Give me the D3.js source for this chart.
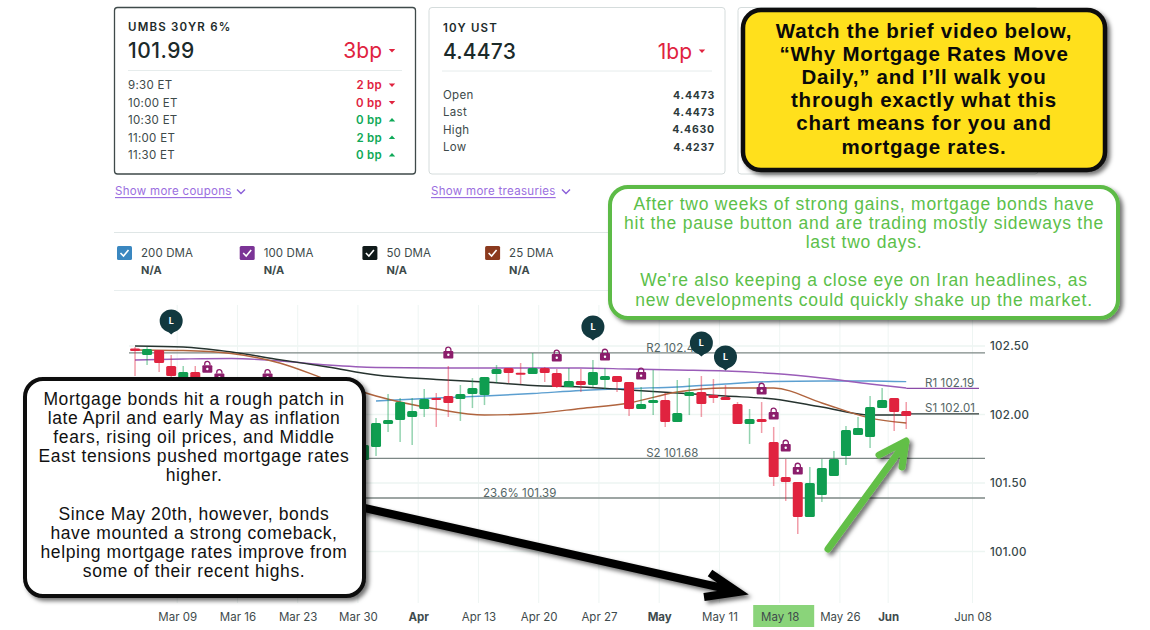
<!DOCTYPE html>
<html><head><meta charset="utf-8">
<script src="https://cdn.jsdelivr.net/npm/d3@7/dist/d3.min.js"></script>
<style>
html,body{margin:0;padding:0;background:#fff;overflow:hidden}
svg{display:block}
text{font-family:Inter,"Liberation Sans",sans-serif}
</style></head><body><svg id="c" width="1150" height="630"></svg>
<script>
// ---------- DATA ----------
const days=["2026-03-03","2026-03-04","2026-03-05","2026-03-06",
"2026-03-09","2026-03-10","2026-03-11","2026-03-12","2026-03-13",
"2026-03-16","2026-03-17","2026-03-18","2026-03-19","2026-03-20",
"2026-03-23","2026-03-24","2026-03-25","2026-03-26","2026-03-27",
"2026-03-30","2026-03-31","2026-04-01","2026-04-02","2026-04-03",
"2026-04-06","2026-04-07","2026-04-08","2026-04-09","2026-04-10",
"2026-04-13","2026-04-14","2026-04-15","2026-04-16","2026-04-17",
"2026-04-20","2026-04-21","2026-04-22","2026-04-23","2026-04-24",
"2026-04-27","2026-04-28","2026-04-29","2026-04-30","2026-05-01",
"2026-05-04","2026-05-05","2026-05-06","2026-05-07","2026-05-08",
"2026-05-11","2026-05-12","2026-05-13","2026-05-14","2026-05-15",
"2026-05-18","2026-05-19","2026-05-20","2026-05-21","2026-05-22",
"2026-05-26","2026-05-27","2026-05-28","2026-05-29",
"2026-06-01","2026-06-02","2026-06-03","2026-06-04","2026-06-05","2026-06-06","2026-06-07","2026-06-08"];
const opens=[102.482,102.434,102.471,102.354,102.266,102.310,102.252,102.142,102.164,102.030,101.930,102.020,101.870,101.755,101.843,101.740,101.595,101.683,101.770,101.668,101.763,101.930,101.960,101.982,102.040,102.120,102.135,102.113,102.150,102.142,102.296,102.339,102.305,102.296,102.339,102.303,102.201,102.245,102.215,102.252,102.281,102.237,102.040,102.084,102.106,101.945,102.135,102.164,102.142,102.128,102.077,101.931,101.967,101.799,101.544,101.507,101.252,101.412,101.551,101.697,101.850,101.836,102.047,102.120,102.026];
const highs=[102.493,102.495,102.471,102.434,102.354,102.354,102.250,102.190,102.220,102.070,102.050,102.190,101.945,101.900,101.887,101.814,101.755,101.814,101.830,101.828,101.974,102.150,102.120,102.120,102.186,102.157,102.354,102.215,102.266,102.274,102.361,102.339,102.376,102.449,102.347,102.332,102.339,102.332,102.398,102.339,102.281,102.237,102.201,102.325,102.157,102.252,102.266,102.281,102.259,102.215,102.091,102.040,102.091,101.909,101.675,101.507,101.617,101.675,101.734,101.916,101.982,102.135,102.193,102.120,102.091];
const lows=[102.281,102.361,102.310,102.245,102.215,102.164,102.120,102.070,101.975,101.870,101.860,101.810,101.705,101.680,101.653,101.536,101.520,101.595,101.580,101.595,101.697,101.872,101.800,101.777,101.982,101.909,101.982,101.953,102.047,102.069,102.230,102.230,102.223,102.296,102.237,102.193,102.201,102.164,102.201,102.186,102.164,101.989,102.040,101.996,101.909,101.945,101.996,101.982,102.084,102.106,101.931,101.785,101.865,101.478,101.369,101.128,101.252,101.361,101.551,101.631,101.850,101.755,102.047,101.880,101.894];
const closes=[102.464,102.478,102.376,102.281,102.310,102.237,102.164,102.190,102.030,101.960,102.020,101.870,101.770,101.850,101.726,101.624,101.710,101.755,101.653,101.777,101.938,101.960,102.091,102.026,102.113,102.106,102.084,102.150,102.193,102.274,102.332,102.303,102.296,102.339,102.303,102.201,102.245,102.215,102.310,102.281,102.237,102.040,102.077,102.106,101.945,102.011,102.164,102.077,102.120,102.106,101.931,101.967,101.945,101.544,101.507,101.252,101.500,101.609,101.675,101.887,101.901,102.055,102.106,102.018,101.989];

const maDays=["2026-03-03","2026-03-09","2026-03-13","2026-03-19","2026-03-25","2026-03-31","2026-04-07","2026-04-13","2026-04-17","2026-04-23","2026-04-29","2026-05-05","2026-05-11","2026-05-15","2026-05-21","2026-05-28","2026-06-02"];
const ma50=[102.50,102.493,102.456,102.40,102.347,102.288,102.256,102.237,102.212,102.201,102.179,102.157,102.135,102.113,102.055,101.996,101.996];
const ma25=[102.471,102.467,102.445,102.376,102.252,102.135,102.04,101.996,102.007,102.044,102.084,102.164,102.193,102.193,102.084,101.974,101.938];
const ma100=[102.398,102.405,102.409,102.391,102.361,102.343,102.339,102.339,102.339,102.339,102.332,102.325,102.318,102.299,102.266,102.223,102.193];
const ma200=[null,null,null,null,null,102.099,102.12,102.135,102.153,102.175,102.19,102.201,102.223,102.241,102.245,102.245,102.24];

const yTicks=[102.5,102,101.5,101];
const tickDays=["2026-03-09","2026-03-16","2026-03-23","2026-03-30","2026-04-06","2026-04-13","2026-04-20","2026-04-27","2026-05-04","2026-05-11","2026-05-18","2026-05-26","2026-06-01","2026-06-08"];
const tickLabels=["Mar 09","Mar 16","Mar 23","Mar 30","Apr","Apr 13","Apr 20","Apr 27","May","May 11","May 18","May 26","Jun","Jun 08"];
const boldTicks=["Apr","May","Jun"];

const levelNames=["R2 102.45","S2 101.68","23.6% 101.39"];
const levelValues=[102.45,101.68,101.39];
const levelLabelDays=["2026-04-30","2026-04-30","2026-04-13"];
const levelLabelDx=[5,5,-1.5];

const lockDays=["2026-03-11","2026-03-12","2026-03-18","2026-04-08","2026-04-21","2026-04-27","2026-04-30","2026-05-14","2026-05-15","2026-05-18","2026-05-19"];
const pinDays=["2026-03-06","2026-04-24","2026-05-07","2026-05-11"];
const pinValues=[102.683,102.639,102.522,102.42];

const couponRows=["9:30 ET","10:00 ET","10:30 ET","11:00 ET","11:30 ET"];
const couponVals=["2 bp","0 bp","0 bp","2 bp","0 bp"];
const couponDown=[true,true,false,false,false];
const ustRows=["Open","Last","High","Low"];
const ustVals=["4.4473","4.4473","4.4630","4.4237"];
const dmaNames=["200 DMA","100 DMA","50 DMA","25 DMA"];
const dmaColors=["#3a87c0","#7b3496","#101a1a","#8b3a1e"];
const yellowLines=["Watch the brief video below,","“Why Mortgage Rates Move","Daily,” and I’ll walk you","through exactly what this","chart means for you and","mortgage rates."];
const greenLines=["After two weeks of strong gains, mortgage bonds have","hit the pause button and are trading mostly sideways the","last two days.","","We're also keeping a close eye on Iran headlines, as","new developments could quickly shake up the market."];
const blackLines=["Mortgage bonds hit a rough patch in","late April and early May as inflation","fears, rising oil prices, and Middle","East tensions pushed mortgage rates","higher.","","Since May 20th, however, bonds","have mounted a strong comeback,","helping mortgage rates improve from","some of their recent highs."];

// ---------- SCALES ----------
const svg=d3.select("#c");
const x=d3.scalePoint().domain(days).range([129,972.5]);
const step=x.step();
const xc=d=>x(d)+step/2;
const y=d3.scaleLinear().domain([101,102.5]).range([551.5,346]);
const RED="#e0233f",GRN="#0f9d50",right=985;

const defs=svg.append("defs");
const f=defs.append("filter").attr("id","sh").attr("x","-10%").attr("y","-10%").attr("width","125%").attr("height","125%");
f.append("feDropShadow").attr("dx",3).attr("dy",3).attr("stdDeviation",2).attr("flood-color","#000").attr("flood-opacity",.55);

// ---------- CARDS ----------
function txt(g,s,px,py,o={}){
  const t=g.append("text").attr("x",px).attr("y",py).text(s).attr("dominant-baseline","central")
   .attr("font-size",o.size||11.5).attr("font-weight",o.w||400).attr("fill",o.c||"#3d4a4a")
   .attr("text-anchor",o.a||"start");
  if(o.ls)t.style("letter-spacing",o.ls+"px");
  return t;
}
function caret(g,cx,cy,down,c){
  const s=2.6;
  g.append("path").attr("d",down?`M${cx-s-.6},${cy-1.4}H${cx+s+.6}L${cx},${cy+2}Z`:`M${cx-s-.6},${cy+1.6}H${cx+s+.6}L${cx},${cy-2}Z`).attr("fill",c);
}
const cards=svg.append("g");
cards.append("rect").attr("x",114.5).attr("y",7.5).attr("width",301).attr("height",166.5).attr("rx",3).attr("fill","#fff").attr("stroke","#3f4a4a").attr("stroke-width",1.3);
cards.append("rect").attr("x",429).attr("y",7.5).attr("width",296).attr("height",166.5).attr("rx",3).attr("fill","#fff").attr("stroke","#d5dcdc");
cards.append("rect").attr("x",738).attr("y",7.5).attr("width",300).attr("height",166.5).attr("rx",3).attr("fill","#fff").attr("stroke","#d5dcdc");
txt(cards,"UMBS 30YR 6%",128,27,{size:11.5,w:600,c:"#1d2b2b",ls:1.2});
txt(cards,"101.99",128,50.5,{size:21,w:500,c:"#1b2a2a",ls:.5});
txt(cards,"3bp",382,50.5,{size:21,w:400,c:RED,a:"end"});
caret(cards,392,50.5,true,RED);
cards.append("line").attr("x1",128).attr("x2",402).attr("y1",70.5).attr("y2",70.5).attr("stroke","#e6ecec");
couponRows.forEach((r,i)=>{
  const yy=85+i*17.5,c=couponDown[i]?RED:"#0fa958";
  txt(cards,r,128,yy,{size:11.5,ls:.3});
  txt(cards,couponVals[i],382,yy,{size:11.5,w:600,c,a:"end",ls:.3});
  caret(cards,392,yy,couponDown[i],c);
});
txt(cards,"10Y UST",443,28,{size:11.5,w:600,c:"#1d2b2b",ls:1.2});
txt(cards,"4.4473",443,51,{size:21,w:500,c:"#1b2a2a",ls:.2});
txt(cards,"1bp",692,51,{size:21,c:RED,a:"end"});
caret(cards,702,51,true,RED);
cards.append("line").attr("x1",442).attr("x2",712).attr("y1",71).attr("y2",71).attr("stroke","#e6ecec");
ustRows.forEach((r,i)=>{
  const yy=95+i*17.4;
  txt(cards,r,443,yy,{size:11.5,ls:.3});
  txt(cards,ustVals[i],715,yy,{size:10.5,w:700,c:"#2c3a3a",a:"end",ls:.8});
});
[["Show more coupons",115,241],["Show more treasuries",431,566]].forEach(([s,xx,cx])=>{
  txt(cards,s,xx,191,{size:11.5,c:"#9b6ee0",ls:.3}).attr("text-decoration","underline");
  cards.append("path").attr("d",`M${cx-4},189.5L${cx},193.5L${cx+4},189.5`).attr("fill","none").attr("stroke","#8a5fd8").attr("stroke-width",1.4);
});
cards.append("line").attr("x1",114).attr("x2",985).attr("y1",232.5).attr("y2",232.5).attr("stroke","#dfe6e6");
cards.append("line").attr("x1",114).attr("x2",985).attr("y1",290.5).attr("y2",290.5).attr("stroke","#e8eeee");
dmaNames.forEach((n,i)=>{
  const bx=117+i*122.7;
  cards.append("rect").attr("x",bx).attr("y",246).attr("width",15).attr("height",14).attr("rx",1.5).attr("fill",dmaColors[i]);
  cards.append("path").attr("d",`M${bx+3.5},253L${bx+6.5},256L${bx+11.5},250`).attr("fill","none").attr("stroke","#fff").attr("stroke-width",1.6);
  txt(cards,n,bx+24,253,{size:11.5,c:"#3d4a4a",ls:.1});
  txt(cards,"N/A",bx+24,270,{size:11,w:700,c:"#3d4a4a"});
});

// ---------- CHART ----------
const chart=svg.append("g");
const gy=chart.append("g").attr("transform",`translate(${right},0)`)
  .call(d3.axisRight(y).tickValues(yTicks).tickFormat(d3.format(".2f")).tickSize(0).tickPadding(5));
gy.select(".domain").remove();
gy.selectAll("text").attr("font-size",11.5).attr("font-weight",500).attr("fill","#37474a").style("font-family","Inter").style("letter-spacing",".3px");
chart.append("g").selectAll("line").data(yTicks).join("line").attr("x1",129).attr("x2",right).attr("y1",y).attr("y2",y).attr("stroke","#edf5f2").attr("stroke-width",1.4);
chart.append("g").selectAll("line").data(tickDays).join("line").attr("x1",x).attr("x2",x).attr("y1",305).attr("y2",603).attr("stroke","#eef5f3");

chart.append("rect").attr("x",x("2026-05-18")-26.5).attr("y",605).attr("width",61).attr("height",22).attr("fill","#8ad47a");
const gx=chart.append("g").attr("transform","translate(0,610)")
  .call(d3.axisBottom(x).tickValues(tickDays).tickFormat((d,i)=>tickLabels[i]).tickSize(0).tickPadding(3));
gx.select(".domain").remove();
gx.selectAll("text").attr("font-size",11.5).attr("fill","#3f4b4d").style("font-family","Inter")
  .attr("font-weight",(d,i)=>boldTicks.includes(tickLabels[i])?700:400);

// levels
chart.append("g").selectAll("line").data(levelValues).join("line").attr("x1",129).attr("x2",right).attr("y1",y).attr("y2",y).attr("stroke","#7c8785").attr("stroke-width",1.4);
levelNames.forEach((n,i)=>txt(chart,n,xc(levelLabelDays[i])+levelLabelDx[i],y(levelValues[i])-5,{size:11.5,c:"#566",ls:.1}));
chart.append("line").attr("x1",xc("2026-06-02")).attr("x2",979).attr("y1",y(102.19)).attr("y2",y(102.19)).attr("stroke","#8b4ba8").attr("stroke-width",1.3);
chart.append("line").attr("x1",xc("2026-06-02")).attr("x2",979).attr("y1",y(102.005)).attr("y2",y(102.005)).attr("stroke","#2b3635").attr("stroke-width",1.3);
txt(chart,"R1 102.19",925,383,{size:11.5,c:"#566",ls:.1});
txt(chart,"S1 102.01",925,408,{size:11.5,c:"#566",ls:.1});

// moving averages
const line=d3.line().defined(d=>d[1]!=null).x(d=>xc(d[0])).y(d=>y(d[1])).curve(d3.curveMonotoneX);
[[ma200,"#5c9fd0"],[ma100,"#9a5cb8"],[ma50,"#26332f"],[ma25,"#b0643e"]].forEach(([s,c])=>{
  chart.append("path").attr("d",line(maDays.map((d,i)=>[d,s[i]]))).attr("fill","none").attr("stroke",c).attr("stroke-width",1.4);
});

// candles
const candles=opens.map((o,i)=>({d:days[i],o,h:highs[i],l:lows[i],c:closes[i]}));
const cg=chart.append("g");
cg.selectAll("line").data(candles).join("line").attr("x1",d=>xc(d.d)).attr("x2",d=>xc(d.d)).attr("y1",d=>y(d.h)).attr("y2",d=>y(d.l))
  .attr("stroke",d=>d.c>=d.o?GRN:RED).attr("stroke-opacity",.45).attr("stroke-width",1.5);
cg.selectAll("rect").data(candles).join("rect").attr("x",d=>xc(d.d)-5).attr("width",10)
  .attr("y",d=>y(Math.max(d.o,d.c))).attr("height",d=>Math.max(2,Math.abs(y(d.o)-y(d.c)))).attr("rx",1.5)
  .attr("fill",d=>d.c>=d.o?GRN:RED);

// locks
const lg=chart.append("g").selectAll("g").data(lockDays).join("g")
  .attr("transform",d=>`translate(${xc(d)},${y(highs[days.indexOf(d)])-13})`);
lg.append("path").attr("d","M-2.6,-2V-3.2A2.6,2.6 0 0 1 2.6,-3.2V-2").attr("fill","none").attr("stroke","#8c1d6b").attr("stroke-width",1.3);
lg.append("rect").attr("x",-5).attr("y",-2).attr("width",10).attr("height",7.5).attr("rx",1).attr("fill","#8c1d6b");
lg.append("circle").attr("cy",1.7).attr("r",1.2).attr("fill","#fff");

// pins
const pg=chart.append("g").selectAll("g").data(pinDays).join("g")
  .attr("transform",(d,i)=>`translate(${xc(d)},${y(pinValues[i])})`);
pg.append("path").attr("d","M-9,5.5L0,13.5L9,5.5Z").attr("fill","#12393f");
pg.append("circle").attr("r",11.5).attr("fill","#12393f");
pg.append("text").text("L").attr("text-anchor","middle").attr("dominant-baseline","central").attr("font-size",9).attr("font-weight",700).attr("fill","#fff");

// ---------- CALLOUTS ----------
const lib='"Liberation Sans",Arial,sans-serif';
function box(x0,y0,w,h,fill,stroke,sw){
  svg.append("rect").attr("x",x0).attr("y",y0).attr("width",w).attr("height",h).attr("rx",18).attr("fill",fill).attr("stroke",stroke).attr("stroke-width",sw).attr("filter","url(#sh)");
}
function para(lines,cx,y0,dy,size,w,c,ls){
  lines.forEach((s,i)=>{ if(!s)return;
    svg.append("text").attr("x",cx).attr("y",y0+i*dy).text(s).attr("text-anchor","middle").attr("dominant-baseline","central")
     .attr("font-size",size).attr("font-weight",w).attr("fill",c).style("font-family",lib).style("letter-spacing",ls+"px");
  });
}
box(743,10,362,160,"#ffe01b","#0a0a0a",4.5);
para(yellowLines,924,30,23.2,20.5,700,"#0a0a0a",.75);
box(610,187,508,131,"#fff","#5dbb46",4);
para(greenLines,864,203.5,19.2,17.5,400,"#5cbf4a",.75);

// black arrow + callout
svg.append("path").attr("d","M360,507L736,591M710,573L738,592L704,597").attr("fill","none").attr("stroke","#050505").attr("stroke-width",8).attr("stroke-linejoin","miter").attr("filter","url(#sh)");
box(25,379,339,217,"#fff","#0a0a0a",4);
para(blackLines,194,398.5,19.2,17.5,400,"#111",.6);

// green arrow
svg.append("path").attr("d","M828,549L906,442M879,455L906,441L902,467").attr("fill","none").attr("stroke","#62bf46").attr("stroke-width",7).attr("stroke-linecap","round").attr("stroke-linejoin","round").attr("filter","url(#sh)");
</script></body></html>
